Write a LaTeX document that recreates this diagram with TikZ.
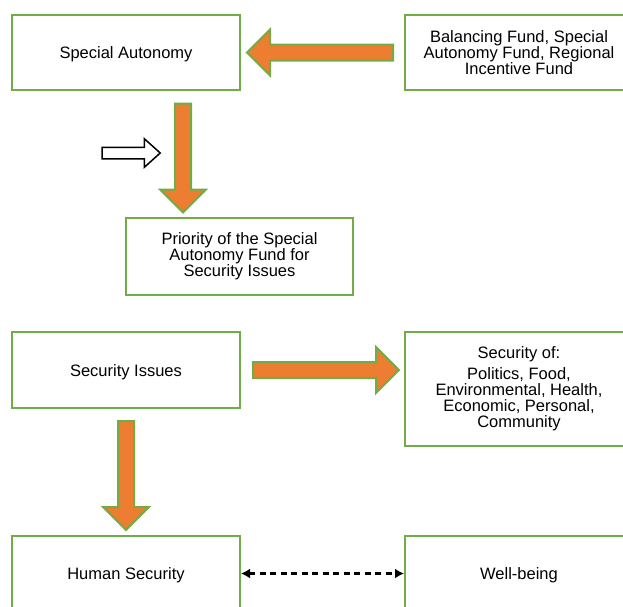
\documentclass[tikz,border=0pt]{standalone}
\usepackage{fontspec}
\setmainfont{Liberation Sans}
\usetikzlibrary{shapes.arrows,arrows.meta}
\definecolor{boxgreen}{HTML}{70AD47}
\definecolor{flowor}{HTML}{ED7D31}
\newcommand{\lowtext}[1]{\raisebox{-2pt}[\height][\depth]{#1}}
\begin{document}
\begin{tikzpicture}[x=1pt, y=-1pt,
    box/.style={draw=boxgreen, line width=2pt, fill=white, align=center,
                minimum width=228pt, minimum height=75pt, inner sep=2pt,
                font=\fontsize{16.5}{16}\selectfont},
    blockarrow/.style={single arrow, draw=boxgreen, fill=flowor, line width=2pt,
                inner sep=7pt, single arrow head extend=15pt},
    hollowarrow/.style={single arrow, draw=black, fill=white, line width=1.5pt,
                inner sep=5pt, single arrow head extend=8.5pt,
                single arrow tip angle=84}]
    \clip (0,0) rectangle (623,606);

    % Boxes
    \node[box] (specaut)   at (126, 52.5) {\lowtext{Special Autonomy}};
    \node[box] (funds)     at (519, 52.5) {Balancing Fund, Special\\Autonomy Fund, Regional\\Incentive Fund};
    \node[box, minimum width=227pt, minimum height=77pt] (priority) at (239.5, 256.5)
        {Priority of the Special\\Autonomy Fund for\\Security Issues};
    \node[box, minimum height=76pt] (secissues) at (126, 370) {\lowtext{Security Issues}};
    \node[box, minimum height=114pt] (secof) at (519, 389)
        {Security of:\\[5pt]Politics, Food,\\Environmental, Health,\\Economic, Personal,\\Community};
    \node[box] (humansec)  at (126, 573.5) {\lowtext{Human Security}};
    \node[box] (wellbeing) at (519, 573.5) {\lowtext{Well-being}};

    % Block arrows
    \node[blockarrow, minimum height=146pt, rotate=180] (arrfund) at (324, 52.5) {};
    \node[blockarrow, minimum height=109pt, rotate=-90] (arrprio) at (183, 154) {};
    \node[hollowarrow, minimum height=58pt] (arrhollow) at (128, 153) {};
    \node[blockarrow, minimum height=146pt] (arrsec) at (322, 370) {};
    \node[blockarrow, minimum height=109pt, rotate=-90] (arrhuman) at (126, 471.5) {};

    % Dashed link
    \draw[line width=2.4pt, dash pattern=on 6pt off 4.5pt,
          {Latex[length=9pt,width=10pt]}-{Latex[length=9pt,width=10pt]}]
        (humansec.east) -- (wellbeing.west);
\end{tikzpicture}
\end{document}
